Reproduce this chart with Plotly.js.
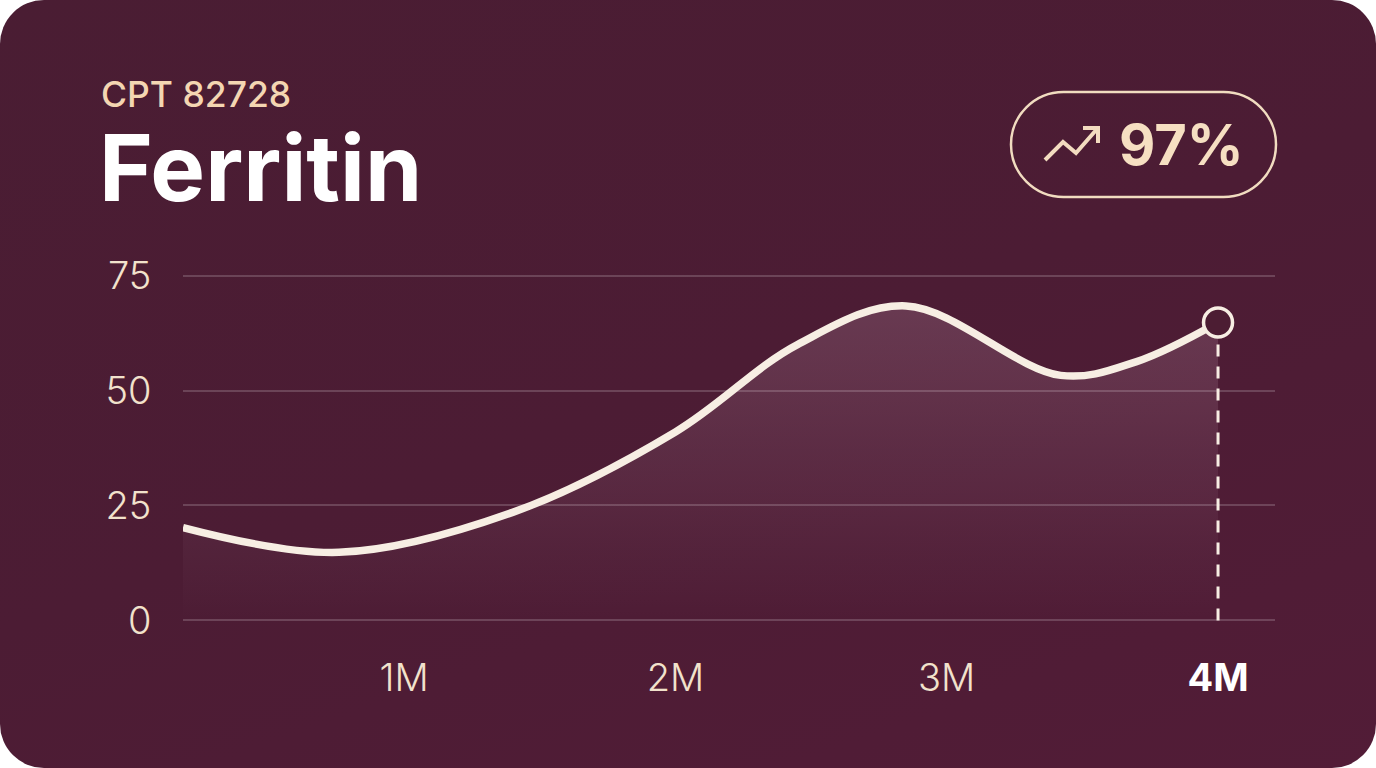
<!DOCTYPE html>
<html>
<head>
<meta charset="utf-8">
<script src="https://cdn.plot.ly/plotly-3.0.1.min.js"></script>
<style>
  html, body { margin: 0; padding: 0; background: #ffffff; }
  #card {
    width: 1376px; height: 768px; border-radius: 44px; overflow: hidden;
    background: linear-gradient(160deg, #4a1d33 0%, #4c1c34 50%, #521c37 100%);
  }
  #chart { width: 1376px; height: 768px; }
</style>
</head>
<body>
<div id="card"><div id="chart"></div></div>
<script>
// ---- data ----
const months   = [0.185, 0.76, 1.4, 2.0, 2.45, 2.85, 3.42, 3.7, 4.0];
const ferritin = [20.2, 14.8, 23.5, 41.0, 60.0, 68.4, 53.3, 56.3, 64.8];
const xTickVals = [1, 2, 3, 4];
const xTickLabels = ['1M', '2M', '3M', '4M'];
const yTickVals = [0, 25, 50, 75];
const codeLabel = 'CPT 82728';
const testName = 'Ferritin';
const changeLabel = '97%';

// ---- styling ----
const CREAM = '#f7eee3';
const TICK = '#f2e2cc';
const BG = '#4c1d33';
const M = { l: 183, r: 101, t: 271, b: 143 };
const W = 1376, H = 768;
const pw = W - M.l - M.r, ph = H - M.t - M.b;
const px = x => ((x - M.l) / pw).toFixed(5);
const py = y => ((H - M.b - y) / ph).toFixed(5);
const P = (x, y) => px(x) + ',' + py(y);

// pill outline (pixel geometry converted to paper coords)
const cx = 1143.5, cy = 144.5, hw = 132.5, r = 52.5, k = 0.5523 * r;
const L = cx - hw + r, R = cx + hw - r;
const pill = 'M' + P(L, cy - r) + ' L' + P(R, cy - r) +
  ' C' + P(R + k, cy - r) + ' ' + P(R + r, cy - k) + ' ' + P(R + r, cy) +
  ' C' + P(R + r, cy + k) + ' ' + P(R + k, cy + r) + ' ' + P(R, cy + r) +
  ' L' + P(L, cy + r) +
  ' C' + P(L - k, cy + r) + ' ' + P(L - r, cy + k) + ' ' + P(L - r, cy) +
  ' C' + P(L - r, cy - k) + ' ' + P(L - k, cy - r) + ' ' + P(L, cy - r) + ' Z';
const zig = 'M' + P(1045, 160) + ' L' + P(1063, 142) + ' L' + P(1076, 153) + ' L' + P(1097, 129);
const head = 'M' + P(1083, 128) + ' L' + P(1098, 128) + ' L' + P(1098, 143);

const last = months.length - 1;

const traces = [
  {
    x: months, y: ferritin, type: 'scatter', mode: 'lines',
    line: { color: CREAM, width: 7.5, shape: 'spline', smoothing: 1 },
    fill: 'tozeroy',
    fillgradient: { type: 'vertical',
      colorscale: [[0, 'rgba(255,215,235,0.0)'], [1, 'rgba(255,215,235,0.16)']] },
    hoverinfo: 'skip'
  },
  {
    x: [months[last]], y: [ferritin[last]], type: 'scatter', mode: 'markers',
    marker: { size: 29, color: BG, line: { color: CREAM, width: 3.5 } },
    cliponaxis: false, hoverinfo: 'skip'
  }
];

const layout = {
  width: W, height: H, margin: M,
  paper_bgcolor: 'rgba(0,0,0,0)', plot_bgcolor: 'rgba(0,0,0,0)',
  showlegend: false,
  xaxis: {
    range: [0.185, 4.21], tickvals: xTickVals,
    ticktext: xTickLabels.map((t, i) => i === xTickLabels.length - 1 ? '<b><span style="color:#ffffff">' + t + '</span></b>' : t),
    showgrid: false, zeroline: false, showline: false,
    ticks: 'outside', ticklen: 19, tickcolor: 'rgba(0,0,0,0)',
    tickfont: { family: 'Inter', size: 38, color: TICK, weight: 300 }
  },
  yaxis: {
    range: [-1, 76], tickvals: yTickVals,
    showgrid: true, gridcolor: 'rgba(255,255,255,0.18)', gridwidth: 2,
    zeroline: false, showline: false,
    ticks: 'outside', ticklen: 23, tickcolor: 'rgba(0,0,0,0)',
    tickfont: { family: 'Inter', size: 38, color: TICK, weight: 300 }
  },
  shapes: [
    { type: 'line', xref: 'x', yref: 'y', x0: months[last], x1: months[last], y0: 0, y1: ferritin[last],
      line: { color: CREAM, width: 3, dash: '12px,10px' }, layer: 'between' },
    { type: 'path', xref: 'paper', yref: 'paper', path: pill, line: { color: '#f1dcc0', width: 2.5 } },
    { type: 'path', xref: 'paper', yref: 'paper', path: zig, line: { color: '#f3dcc0', width: 4 } },
    { type: 'path', xref: 'paper', yref: 'paper', path: head, line: { color: '#f3dcc0', width: 4 } }
  ],
  annotations: [
    { text: codeLabel, xref: 'paper', yref: 'paper', x: +px(99), y: +py(94), xanchor: 'left', yanchor: 'middle',
      height: 34, valign: 'middle',
      showarrow: false, font: { family: 'Inter', size: 35.5, color: '#f4d6b2', weight: 500 } },
    { text: testName, xref: 'paper', yref: 'paper', x: +px(97), y: +py(167), xanchor: 'left', yanchor: 'middle',
      height: 86, valign: 'middle',
      showarrow: false, font: { family: 'Inter', size: 92, color: '#ffffff', weight: 700 } },
    { text: changeLabel, xref: 'paper', yref: 'paper', x: +px(1117), y: +py(145), xanchor: 'left', yanchor: 'middle',
      showarrow: false, font: { family: 'Inter', size: 56, color: '#f6dfc2', weight: 700 } }
  ]
};

Plotly.newPlot('chart', traces, layout, { staticPlot: true, displayModeBar: false });
</script>
</body>
</html>
